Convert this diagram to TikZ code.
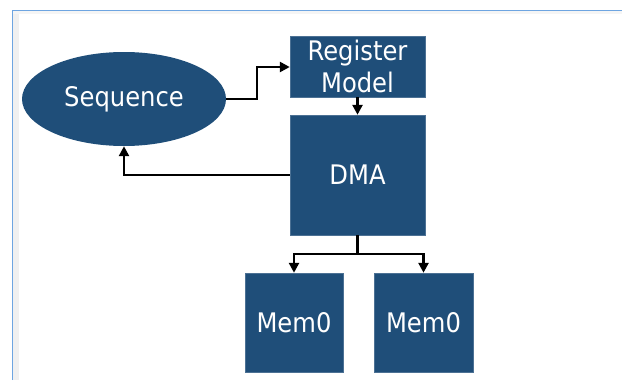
\documentclass[tikz,border=0pt]{standalone}
\usepackage{fontspec}
\setmainfont{DejaVu Sans Condensed}
\usetikzlibrary{arrows.meta,positioning,shapes.geometric}
\definecolor{blockblue}{RGB}{31,78,121}
\definecolor{frameblue}{RGB}{110,165,225}
\tikzset{
	block/.style={rectangle,fill=blockblue,draw=blockblue!80!white,text=white,align=center,inner sep=0pt,font=\fontsize{23}{27}\selectfont},
	oval/.style={ellipse,fill=blockblue,text=white,inner sep=0pt,font=\fontsize{23}{27}\selectfont},
	link/.style={line width=2.3pt,-{Triangle[length=0.3cm,width=0.3cm]}},
	wire/.style={line width=2.3pt}
}
\begin{document}
\begin{tikzpicture}
		\useasboundingbox (0,0) rectangle (18.66,-11.4);
		% frame
		\fill[black!6] (0.36,-11.4) rectangle (0.57,-0.3);
		\fill[black!4] (0.36,-0.3) rectangle (18.66,-0.42);
		\draw[frameblue,line width=0.8pt] (0.36,-11.4) -- (0.36,-0.3) -- (18.66,-0.3);
		
		\node[oval,minimum width=6.12cm,minimum height=2.82cm] (seq) at (3.72,-2.97) {Sequence};
		\node[block,minimum width=4.05cm,minimum height=1.83cm] (reg) at (10.725,-1.995) {Register\\Model};
		\node[block,minimum width=4.05cm,minimum height=3.6cm] (dma) at (10.725,-5.25) {DMA};
		\node[block,minimum width=2.94cm,minimum height=2.97cm] (meml) at (8.82,-9.675) {Mem0};
		\node[block,minimum width=2.97cm,minimum height=2.97cm] (memr) at (12.705,-9.675) {Mem0};
		
		\node[coordinate] (sbend) at (7.71,-2.97) {}; % seq -> reg
		\node[coordinate] (rbend) at (7.71,-2.01) {};
		\node[coordinate] (split) at (10.725,-7.62) {}; % dma -> mems
		
		\draw[link] (seq.east) -- (sbend) -- (rbend) -- (reg.west |- rbend);
		\draw[link] (reg.south) -- (dma.north);
		\draw[link] (dma.west) -| (seq.south);
		\draw[wire] (dma.south) -- (split);
		\draw[link] (split) -| (meml.north);
		\draw[link] (split) -| (memr.north);
	\end{tikzpicture}
\end{document}
